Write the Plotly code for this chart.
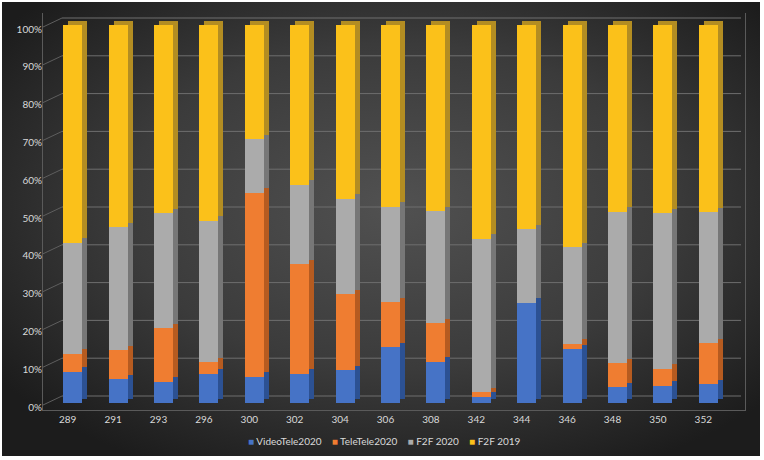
import base64
import numpy as np
import plotly.graph_objects as go

# ---------------- data ----------------
categories = ["289", "291", "293", "296", "300", "302", "304", "306", "308",
              "342", "344", "346", "348", "350", "352"]
video_tele_2020 = [8.3, 6.3, 5.6, 7.8, 6.9, 7.7, 8.7, 14.7, 10.9, 1.7, 26.5, 14.2, 4.2, 4.5, 5.0]
tele_tele_2020 = [4.7, 7.7, 14.2, 3.0, 48.7, 29.0, 20.1, 11.9, 10.2, 1.1, 0.0, 1.5, 6.3, 4.5, 10.8]
f2f_2020 = [29.4, 32.5, 30.4, 37.4, 14.2, 21.0, 25.2, 25.3, 29.6, 40.6, 19.5, 25.5, 40.1, 41.2, 34.7]
f2f_2019 = [57.6, 53.5, 49.8, 51.8, 30.2, 42.3, 46.0, 48.1, 49.3, 56.6, 54.0, 58.8, 49.4, 49.8, 49.5]
y_ticks = [0, 10, 20, 30, 40, 50, 60, 70, 80, 90, 100]
y_tick_labels = [f"{v}%" for v in y_ticks]

series_names = ["VideoTele2020", "TeleTele2020", "F2F 2020", "F2F 2019"]
series_values = [video_tele_2020, tele_tele_2020, f2f_2020, f2f_2019]
front_colors = ["#4673c6", "#ef7d31", "#ababab", "#fbc11a"]
side_colors = ["#2c5193", "#b65b20", "#777777", "#b38d22"]

# ---------------- geometry ----------------
W, H = 764, 460
L, R, T, B = 43, 19, 13, 50
pw, ph = W - L - R, H - T - B
px_per_unit = 3.78
cat_px = 45.4
y_min = -(H - B - 403) / px_per_unit
y_max = y_min + ph / px_per_unit
x_min = -(67.7 - L) / cat_px
x_max = x_min + pw / cat_px

bar_off, bar_w = -0.10, 0.42
depth_x = 5 / cat_px
depth_y = 4.5 / px_per_unit
grid_depth = 7 / px_per_unit
label_shift = 4 / px_per_unit

x_idx = np.arange(len(categories))
vals = np.array(series_values, dtype=float)
bases = np.vstack([np.zeros(len(categories)), np.cumsum(vals, axis=0)[:-1]])

fig = go.Figure()

# side / top faces (drawn first, behind)
for i in range(len(series_names)):
    fig.add_trace(go.Bar(
        x=x_idx, y=vals[i], base=bases[i] + depth_y,
        offset=bar_off + depth_x, width=bar_w,
        marker=dict(color=side_colors[i], line=dict(width=0)),
        showlegend=False, hoverinfo="skip"))
# front faces
for i in range(len(series_names)):
    fig.add_trace(go.Bar(
        x=x_idx, y=vals[i], base=bases[i],
        offset=bar_off, width=bar_w, name=series_names[i], showlegend=False,
        marker=dict(color=front_colors[i], line=dict(width=0))))

# invisible trace to carry tick labels on y2
fig.add_trace(go.Scatter(x=[0], y=[0], yaxis="y2", mode="markers",
                         marker=dict(opacity=0), showlegend=False, hoverinfo="skip"))

shapes = []
grid_x0 = x_min + (62 - L) / cat_px
grid_x1 = x_min + (741 - L) / cat_px
for v in y_ticks:
    shapes.append(dict(type="line", xref="x", yref="y", x0=grid_x0, x1=grid_x1,
                       y0=v + grid_depth, y1=v + grid_depth,
                       line=dict(color="#6e6e6e", width=1), layer="below"))
    shapes.append(dict(type="line", xref="paper", yref="y", x0=0, x1=(62 - L) / pw,
                       y0=v - label_shift * 0.5, y1=v + grid_depth,
                       line=dict(color="#5e5e5e", width=1), layer="below"))

svg = f'''<svg xmlns="http://www.w3.org/2000/svg" width="758" height="454" viewBox="0 0 758 454">
<defs><radialGradient id="g" cx="52%" cy="45%" r="65%">
<stop offset="0%" stop-color="#515151"/><stop offset="55%" stop-color="#3b3b3b"/>
<stop offset="100%" stop-color="#1c1c1c"/></radialGradient></defs>
<rect width="758" height="454" fill="url(#g)"/></svg>'''
src = "data:image/svg+xml;base64," + base64.b64encode(svg.encode()).decode()

# legend as text with coloured squares
legend_text = "&nbsp;&nbsp;&nbsp;&nbsp;".join(
    f"<span style='color:{c}'>■</span>&nbsp;{n}" for c, n in zip(front_colors, series_names))

fig.update_layout(
    width=W, height=H,
    margin=dict(l=L, r=R, t=T, b=B),
    paper_bgcolor="white", plot_bgcolor="rgba(0,0,0,0)",
    barmode="overlay", bargap=0, showlegend=False,
    font=dict(family="Lato, 'Open Sans', sans-serif", size=10, color="#d9d9d9"),
    images=[dict(source=src, xref="paper", yref="paper",
                 x=(2 - L) / pw, y=(H - B - 2) / ph,
                 sizex=758 / pw, sizey=454 / ph,
                 sizing="stretch", layer="below", xanchor="left", yanchor="top")],
    shapes=shapes,
    annotations=[dict(text=legend_text, xref="paper", yref="paper",
                      x=(384 - L) / pw, y=(H - B - 441) / ph, xanchor="center",
                      yanchor="middle", showarrow=False,
                      font=dict(size=10, color="#d9d9d9"))],
    xaxis=dict(range=[x_min, x_max], tickmode="array", tickvals=x_idx, ticktext=categories,
               showgrid=False, zeroline=False, showline=True, linecolor="#5a5a5a",
               ticks="", tickfont=dict(size=10, color="#d9d9d9")),
    yaxis=dict(range=[y_min, y_max], showgrid=False, zeroline=False,
               showticklabels=False, showline=True, linecolor="#5a5a5a", mirror=True),
    yaxis2=dict(range=[y_min + label_shift, y_max + label_shift], overlaying="y",
                side="left", tickmode="array", tickvals=y_ticks, ticktext=y_tick_labels,
                showgrid=False, zeroline=False, showline=False, ticks="",
                tickfont=dict(size=10, color="#d9d9d9")),
)

fig.write_html("out.html", config={"displayModeBar": False},
               post_script="document.body.style.margin='0';")
